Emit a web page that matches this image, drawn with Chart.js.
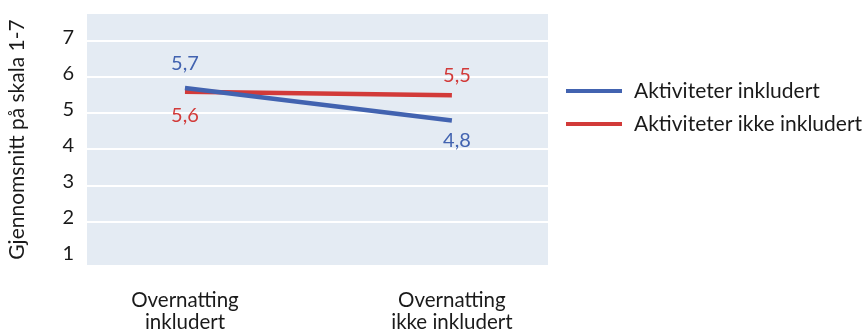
<!DOCTYPE html>
<html>
<head>
<meta charset="utf-8">
<script src="https://cdn.jsdelivr.net/npm/chart.js@4.4.1/dist/chart.umd.min.js"></script>
<style>
  html, body { margin: 0; padding: 0; background: #fff; }
  #wrap { width: 866px; height: 334px; position: relative; }
</style>
</head>
<body>
<div id="wrap"><canvas id="c"></canvas></div>
<script>
// Categories and series
const categories = [["Overnatting", "inkludert"], ["Overnatting", "ikke inkludert"]];
const seriesNames = ["Aktiviteter inkludert", "Aktiviteter ikke inkludert"];
const aktiviteterInkludert = [5.7, 4.8];
const aktiviteterIkkeInkludert = [5.6, 5.5];
const yTicks = [1, 2, 3, 4, 5, 6, 7];
const yTitle = "Gjennomsnitt på skala 1-7";

const BLUE = "#4263b0";
const RED = "#d23a39";
const FONT = "Lato, 'Open Sans', sans-serif";
const seriesValues = [aktiviteterInkludert, aktiviteterIkkeInkludert];
const seriesColors = [BLUE, RED];

const fmt = v => v.toFixed(1).replace(".", ",");

// Shaded plot background
const plotBg = {
  id: "plotBg",
  beforeDraw(chart) {
    const { ctx, chartArea: a } = chart;
    ctx.save();
    ctx.fillStyle = "#e4ebf3";
    ctx.fillRect(a.left, a.top, a.right - a.left, a.bottom - a.top);
    ctx.restore();
  }
};

// Value labels: the higher series at a category is labelled above, the lower below
const valueLabels = {
  id: "valueLabels",
  afterDatasetsDraw(chart) {
    const { ctx } = chart;
    ctx.save();
    ctx.font = "20px " + FONT;
    ctx.textAlign = "center";
    ctx.textBaseline = "middle";
    chart.data.datasets.forEach((ds, di) => {
      const meta = chart.getDatasetMeta(di);
      meta.data.forEach((pt, i) => {
        const v = ds.data[i].y;
        const others = chart.data.datasets.filter((_, k) => k !== di).map(o => o.data[i].y);
        const above = others.every(o => v >= o);
        const gap = i === 0 ? 24 : 20;
        ctx.fillStyle = ds.borderColor;
        ctx.fillText(fmt(v), pt.x + (i === 0 ? 0 : 5), pt.y + (above ? -gap : gap));
      });
    });
    ctx.restore();
  }
};

// Legend drawn to the right of the plot
const sideLegend = {
  id: "sideLegend",
  afterDraw(chart) {
    const { ctx, chartArea: a } = chart;
    ctx.save();
    ctx.font = "21px " + FONT;
    ctx.textBaseline = "middle";
    chart.data.datasets.forEach((ds, i) => {
      const y = 91 + i * 33;
      const x0 = a.right + 18;
      ctx.strokeStyle = ds.borderColor;
      ctx.lineWidth = 4;
      ctx.beginPath();
      ctx.moveTo(x0, y);
      ctx.lineTo(x0 + 56, y);
      ctx.stroke();
      ctx.fillStyle = "#1a1a1a";
      ctx.fillText(ds.label, x0 + 68, y);
    });
    ctx.restore();
  }
};

new Chart(document.getElementById("c"), {
  type: "line",
  data: {
    datasets: seriesNames.map((name, si) => ({
      label: name,
      data: seriesValues[si].map((v, i) => ({ x: i, y: v })),
      borderColor: seriesColors[si],
      backgroundColor: seriesColors[si],
      borderWidth: 4.5,
      pointRadius: 0,
      tension: 0
    }))
  },
  options: {
    responsive: true,
    maintainAspectRatio: false,
    animation: false,
    layout: { padding: { left: 0, right: 318, top: 14, bottom: 0 } },
    plugins: { legend: { display: false }, tooltip: { enabled: false } },
    scales: {
      x: {
        type: "linear",
        min: -0.367,
        max: 1.36,
        afterBuildTicks(s) { s.ticks = categories.map((_, i) => ({ value: i })); },
        afterFit(s) { s.height = 69; s.paddingLeft = 0; s.paddingRight = 0; },
        grid: { display: false, drawTicks: false },
        border: { display: false },
        ticks: {
          autoSkip: false,
          maxRotation: 0,
          padding: 24,
          color: "#1a1a1a",
          font: { family: FONT, size: 20.5, lineHeight: 1.1 },
          callback: (v) => categories[v]
        }
      },
      y: {
        min: 0.8,
        max: 7.75,
        afterBuildTicks(s) { s.ticks = yTicks.map(v => ({ value: v })); },
        afterFit(s) { s.width = 87; s.paddingTop = 0; s.paddingBottom = 0; },
        grid: {
          drawTicks: false,
          lineWidth: 2,
          color: ctx => ctx.tick && ctx.tick.value === 1 ? "rgba(0,0,0,0)" : "#ffffff"
        },
        border: { display: false },
        ticks: {
          padding: 13,
          labelOffset: -4,
          color: "#1a1a1a",
          font: { family: FONT, size: 20 }
        },
        title: {
          display: true,
          text: yTitle,
          color: "#1a1a1a",
          font: { family: FONT, size: 21 },
          padding: { top: 5, bottom: 0 }
        }
      }
    }
  },
  plugins: [plotBg, valueLabels, sideLegend]
});
</script>
</body>
</html>
